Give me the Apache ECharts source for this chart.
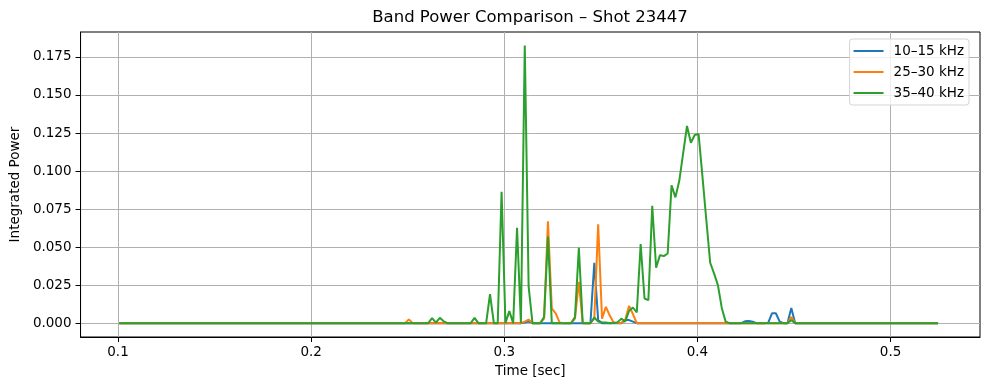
<!DOCTYPE html>
<html>
<head>
<meta charset="utf-8">
<script src="https://cdn.jsdelivr.net/npm/echarts@6/dist/echarts.min.js"></script>
<style>html,body{margin:0;padding:0;background:#fff;}#chart{width:989px;height:390px;}</style>
</head>
<body>
<div id="chart"></div>
<script>
const titleText = 'Band Power Comparison \u2013 Shot 23447';
const seriesNames = ['10\u201315 kHz', '25\u201330 kHz', '35\u201340 kHz'];
const xTicks = [0.1, 0.2, 0.3, 0.4, 0.5];
const yTicks = [0, 0.025, 0.05, 0.075, 0.1, 0.125, 0.15, 0.175];

// [time (s), integrated power]
const band10_15 = [
  [0.1006, 0], [0.3086, 0], [0.3106, 0.0005], [0.3126, 0.001], [0.3146, 0],
  [0.3446, 0], [0.3466, 0.0397], [0.3486, 0.002], [0.3506, 0],
  [0.3606, 0], [0.3626, 0.002], [0.3646, 0.002], [0.3666, 0.001], [0.3686, 0],
  [0.4226, 0], [0.4246, 0.0012], [0.4266, 0.0015], [0.4286, 0.001], [0.4306, 0],
  [0.4346, 0], [0.4366, 0.0002], [0.4386, 0.0065], [0.4406, 0.0065], [0.4426, 0.001], [0.4446, 0],
  [0.4466, 0], [0.4486, 0.0100], [0.4506, 0], [0.5246, 0]
];
const band25_30 = [
  [0.1006, 0], [0.2486, 0], [0.2506, 0.0025], [0.2526, 0],
  [0.3086, 0], [0.3106, 0.001], [0.3126, 0.0024], [0.3146, 0],
  [0.3186, 0], [0.3206, 0.003], [0.3226, 0.067], [0.3246, 0.0097], [0.3266, 0.0065], [0.3286, 0.0005], [0.3306, 0],
  [0.3346, 0], [0.3366, 0.003], [0.3386, 0.0272], [0.3406, 0],
  [0.3446, 0], [0.3466, 0.003], [0.3486, 0.065], [0.3506, 0.003], [0.3526, 0.0107], [0.3546, 0.005], [0.3566, 0.0005],
  [0.3606, 0], [0.3626, 0.002], [0.3646, 0.0114], [0.3666, 0.006], [0.3686, 0],
  [0.4466, 0], [0.4486, 0.004], [0.4506, 0], [0.5246, 0]
];
const band35_40 = [
  [0.1006, 0], [0.2606, 0], [0.2626, 0.0033], [0.2646, 0.0003], [0.2666, 0.0035], [0.2686, 0.0012], [0.2706, 0],
  [0.2826, 0], [0.2846, 0.0035], [0.2866, 0],
  [0.2906, 0], [0.2926, 0.019], [0.2946, 0], [0.2966, 0], [0.2986, 0.0864], [0.3006, 0],
  [0.3026, 0.0079], [0.3046, 0], [0.3066, 0.0627], [0.3086, 0], [0.3106, 0.1825], [0.3126, 0.024], [0.3146, 0],
  [0.3186, 0], [0.3206, 0.004], [0.3226, 0.057], [0.3246, 0],
  [0.3346, 0], [0.3366, 0.004], [0.3386, 0.0496], [0.3406, 0],
  [0.3446, 0], [0.3466, 0.0037], [0.3486, 0.001], [0.3506, 0.0005], [0.3526, 0.0005], [0.3546, 0],
  [0.3586, 0.0005], [0.3606, 0.003], [0.3626, 0.001], [0.3646, 0.008], [0.3666, 0.0103], [0.3686, 0.007],
  [0.3706, 0.052], [0.3726, 0.0162], [0.3746, 0.0151], [0.3766, 0.0772], [0.3786, 0.0364],
  [0.3806, 0.0447], [0.3826, 0.0441], [0.3846, 0.0458], [0.3866, 0.0906], [0.3886, 0.0827],
  [0.3906, 0.0936], [0.3926, 0.1116], [0.3946, 0.1296], [0.3966, 0.1186], [0.3986, 0.1237],
  [0.4006, 0.1243], [0.4026, 0.0963], [0.4046, 0.0678], [0.4066, 0.0397], [0.4086, 0.0327],
  [0.4106, 0.025], [0.4126, 0.010], [0.4146, 0.001], [0.4166, 0],
  [0.4466, 0], [0.4486, 0.002], [0.4506, 0], [0.5246, 0]
];

const colors = ['#1f77b4', '#ff7f0e', '#2ca02c'];
const font = 'DejaVu Sans';
const chart = echarts.init(document.getElementById('chart'), null, {renderer: 'canvas'});
const mk = (name, data, color) => ({
  name: name, type: 'line', data: data, symbol: 'none', showSymbol: false,
  lineStyle: {width: 2, color: color}, itemStyle: {color: color}, animation: false
});
chart.setOption({
  backgroundColor: '#fff',
  animation: false,
  title: {
    text: titleText, left: 530, top: 9, padding: 0, textAlign: 'center',
    textStyle: {fontFamily: font, fontSize: 16.5, fontWeight: 'normal', color: '#000'}
  },
  grid: {left: 79, right: 9, top: 32, bottom: 53, show: true, borderColor: '#000', borderWidth: 1, backgroundColor: 'transparent'},
  legend: {
    orient: 'vertical', right: 20, top: 39, icon: 'rect', itemWidth: 30, itemHeight: 2, itemGap: 5,
    padding: [4, 5, 4, 4], backgroundColor: 'rgba(255,255,255,0.8)', borderColor: '#d5d5d5', borderWidth: 1, borderRadius: 3,
    textStyle: {fontFamily: font, fontSize: 13.5, color: '#000', lineHeight: 16, padding: [0, 0, 0, 5]},
    data: seriesNames
  },
  xAxis: {
    type: 'value', min: 0.0806, max: 0.5463,
    name: 'Time [sec]', nameLocation: 'middle', nameGap: 27,
    nameTextStyle: {fontFamily: font, fontSize: 13.5, color: '#000'},
    axisLine: {show: true, onZero: false, lineStyle: {color: '#000', width: 1}},
    axisTick: {show: true, inside: false, length: 5, lineStyle: {color: '#000'}, customValues: xTicks},
    axisLabel: {fontFamily: font, fontSize: 13.5, color: '#000', margin: 8, customValues: xTicks, formatter: v => v.toFixed(1)},
    splitLine: {show: true, lineStyle: {color: '#b0b0b0', width: 1}}
  },
  yAxis: {
    type: 'value', min: -0.0091, max: 0.1914,
    name: 'Integrated Power', nameLocation: 'middle', nameGap: 56, nameRotate: 90,
    nameTextStyle: {fontFamily: font, fontSize: 13.5, color: '#000'},
    axisLine: {show: true, onZero: false, lineStyle: {color: '#000', width: 1}},
    axisTick: {show: true, inside: false, length: 5, lineStyle: {color: '#000'}, customValues: yTicks},
    axisLabel: {fontFamily: font, fontSize: 13.5, color: '#000', margin: 9, customValues: yTicks, formatter: v => v.toFixed(3)},
    splitLine: {show: true, lineStyle: {color: '#b0b0b0', width: 1}}
  },
  series: [
    mk(seriesNames[0], band10_15, colors[0]),
    mk(seriesNames[1], band25_30, colors[1]),
    mk(seriesNames[2], band35_40, colors[2])
  ]
});
</script>
</body>
</html>
